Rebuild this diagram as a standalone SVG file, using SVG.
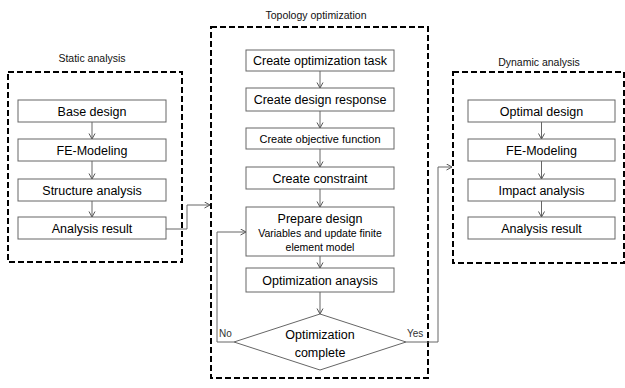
<svg xmlns="http://www.w3.org/2000/svg" width="625" height="388" viewBox="0 0 625 388">
<defs>
<marker id="arr" markerWidth="8" markerHeight="8" refX="6" refY="3.5" orient="auto" markerUnits="userSpaceOnUse">
<path d="M0.5,0.5 L6,3.5 L0.5,6.5" fill="none" stroke="#555" stroke-width="1"/>
</marker>
<style>
.grp{fill:none;stroke:#000;stroke-width:2;stroke-dasharray:6,3}
.node{fill:#fff;stroke:#666;stroke-width:1}
.t{font-family:"Liberation Sans",Arial,sans-serif;font-size:12.5px;fill:#000;text-anchor:middle}
.s{font-family:"Liberation Sans",Arial,sans-serif;font-size:10.5px;fill:#000;text-anchor:middle}
.lbl{font-family:"Liberation Sans",Arial,sans-serif;font-size:10.5px;fill:#111;text-anchor:middle}
.yn{font-family:"Liberation Sans",Arial,sans-serif;font-size:10px;fill:#333}
.c{fill:none;stroke:#666;stroke-width:1;marker-end:url(#arr)}
</style>
</defs>
<rect width="625" height="388" fill="#fff"/>

<g id="groups">
<rect class="grp" x="8" y="72" width="174" height="190"/>
<text class="lbl" x="92" y="62">Static analysis</text>
<rect class="grp" x="211" y="27" width="217" height="351"/>
<text class="lbl" x="316" y="19">Topology optimization</text>
<rect class="grp" x="453" y="72" width="171" height="191"/>
<text class="lbl" x="539" y="66">Dynamic analysis</text>
</g>

<g id="connectors">
<line class="c" x1="92" y1="122" x2="92" y2="139"/>
<line class="c" x1="92" y1="161" x2="92" y2="179"/>
<line class="c" x1="92" y1="201" x2="92" y2="217"/>
<polyline class="c" points="166,229 187,229 187,205 210,205"/>
<line class="c" x1="320" y1="71" x2="320" y2="88"/>
<line class="c" x1="320" y1="111" x2="320" y2="128"/>
<line class="c" x1="320" y1="149" x2="320" y2="167"/>
<line class="c" x1="320" y1="189" x2="320" y2="207"/>
<line class="c" x1="320" y1="256" x2="320" y2="268"/>
<line class="c" x1="320" y1="292" x2="320" y2="314"/>
<polyline class="c" points="234,342 217,342 217,232 246,232"/>
<polyline class="c" points="406,342 438,342 438,167 452,167"/>
<line class="c" x1="541.5" y1="122" x2="541.5" y2="139"/>
<line class="c" x1="541.5" y1="161" x2="541.5" y2="179"/>
<line class="c" x1="541.5" y1="201" x2="541.5" y2="217"/>
<text class="yn" x="219" y="337">No</text>
<text class="yn" x="407" y="337">Yes</text>
</g>

<g id="base-design"><rect class="node" x="18" y="100" width="148" height="22"/><text class="t" x="92" y="115.5">Base design</text></g>
<g id="fe-modeling-1"><rect class="node" x="18" y="139" width="148" height="22"/><text class="t" x="92" y="154.5">FE-Modeling</text></g>
<g id="structure-analysis"><rect class="node" x="18" y="179" width="148" height="22"/><text class="t" x="92" y="194.5">Structure analysis</text></g>
<g id="analysis-result-1"><rect class="node" x="18" y="217" width="148" height="22"/><text class="t" x="92" y="232.5">Analysis result</text></g>

<g id="create-task"><rect class="node" x="246" y="50" width="148" height="21"/><text class="t" x="320" y="65">Create optimization task</text></g>
<g id="create-response"><rect class="node" x="246" y="88" width="148" height="23"/><text class="t" x="320" y="104">Create design response</text></g>
<g id="create-objective"><rect class="node" x="246" y="128" width="148" height="21"/><text class="s" x="320" y="142.5" style="font-size:11px">Create objective function</text></g>
<g id="create-constraint"><rect class="node" x="246" y="167" width="148" height="22"/><text class="t" x="320" y="182.5">Create constraint</text></g>
<g id="prepare-design"><rect class="node" x="246" y="207" width="148" height="49"/>
<text class="t" x="320" y="222.5">Prepare design</text>
<text class="s" x="320" y="237">Variables and update finite</text>
<text class="s" x="320" y="251">element model</text></g>
<g id="optimization-analysis"><rect class="node" x="246" y="268" width="148" height="24"/><text class="t" x="320" y="284.5">Optimization anaysis</text></g>
<g id="optimization-complete"><polygon class="node" points="320,314 406,342 320,370 234,342"/>
<text class="t" x="320" y="338.5">Optimization</text>
<text class="t" x="320" y="356.5">complete</text></g>

<g id="optimal-design"><rect class="node" x="468" y="100" width="147" height="22"/><text class="t" x="541.5" y="115.5">Optimal design</text></g>
<g id="fe-modeling-2"><rect class="node" x="468" y="139" width="147" height="22"/><text class="t" x="541.5" y="154.5">FE-Modeling</text></g>
<g id="impact-analysis"><rect class="node" x="468" y="179" width="147" height="22"/><text class="t" x="541.5" y="194.5">Impact analysis</text></g>
<g id="analysis-result-2"><rect class="node" x="468" y="217" width="147" height="22"/><text class="t" x="541.5" y="232.5">Analysis result</text></g>
</svg>
